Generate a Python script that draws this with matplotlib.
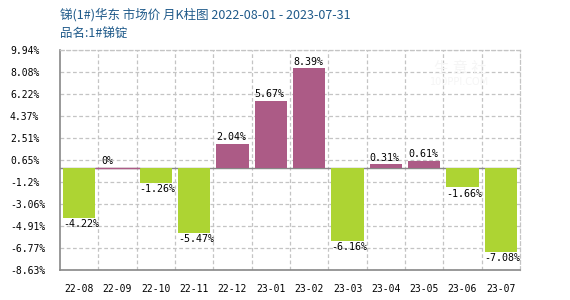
import matplotlib
matplotlib.use("Agg")
import matplotlib.pyplot as plt
import numpy as np

categories = ["22-08", "22-09", "22-10", "22-11", "22-12", "23-01",
              "23-02", "23-03", "23-04", "23-05", "23-06", "23-07"]
values = [-4.22, 0, -1.26, -5.47, 2.04, 5.67, 8.39, -6.16, 0.31, 0.61, -1.66, -7.08]
value_labels = ["-4.22%", "0%", "-1.26%", "-5.47%", "2.04%", "5.67%",
                "8.39%", "-6.16%", "0.31%", "0.61%", "-1.66%", "-7.08%"]
yticks = [9.94, 8.08, 6.22, 4.37, 2.51, 0.65, -1.2, -3.06, -4.91, -6.77, -8.63]
ytick_labels = ["9.94%", "8.08%", "6.22%", "4.37%", "2.51%", "0.65%",
                "-1.2%", "-3.06%", "-4.91%", "-6.77%", "-8.63%"]
title1 = "锑(1#)华东 市场价 月K柱图 2022-08-01 - 2023-07-31"
title2 = "品名:1#锑锭"

UP = "#ac5b86"
DOWN = "#add433"
MONO = "DejaVu Sans Mono"

fig = plt.figure(figsize=(5.7, 3.0), dpi=100)
ax = fig.add_axes([60/570, 30/300, 460/570, 220/300])

x = np.arange(len(categories))
colors = [UP if v >= 0 else DOWN for v in values]
bw = 0.84
ax.bar(x, values, width=bw, color=colors, zorder=3)
# zero-height bar drawn as a line
for xi, v in zip(x, values):
    if v == 0:
        ax.plot([xi - 0.55, xi + 0.55], [0, 0], color=UP, lw=1.0, zorder=4)

ax.axhline(0, color="#888888", lw=1, zorder=2)

for xi, v, lab in zip(x, values, value_labels):
    if v >= 0:
        ax.text(xi - bw/2, v + 0.12, lab, ha="left", va="bottom",
                fontsize=7.2, family=MONO, color="black", zorder=5)
    else:
        ax.text(xi - bw/2, v - 0.12, lab, ha="left", va="top",
                fontsize=7.2, family=MONO, color="black", zorder=5)

ax.set_xlim(-0.5, len(categories) - 0.5)
ax.set_ylim(yticks[-1], yticks[0])
ax.set_yticks(yticks)
ax.set_yticklabels(ytick_labels, family=MONO, fontsize=7, ha="left")
ax.set_xticks(x)
ax.set_xticklabels(categories, family=MONO, fontsize=7)
ax.tick_params(axis="y", length=0, pad=36)
ax.tick_params(axis="x", length=0, pad=10)

# grid
for yt in yticks:
    ax.axhline(yt, color="#c4c4c4", lw=0.9, ls=(0, (3, 2)), zorder=1)
for b in np.arange(0.5, len(categories) - 0.5, 1):
    ax.axvline(b, color="#c4c4c4", lw=0.9, ls=(0, (3, 2)), zorder=1)

for s in ["top", "right"]:
    ax.spines[s].set_color("#c4c4c4")
    ax.spines[s].set_linestyle((0, (3, 2)))
    ax.spines[s].set_linewidth(0.9)
for s in ["left", "bottom"]:
    ax.spines[s].set_color("#888888")
    ax.spines[s].set_linewidth(1.2)

# watermark
fig.text(460/570, 1 - 68/300, "生 意 社", fontsize=11, color="#f5f5f5",
         family="Noto Sans CJK SC", ha="center", va="center", zorder=0)
fig.text(460/570, 1 - 82/300, "100PPI.COM", fontsize=7, color="#f5f5f5",
         family="DejaVu Sans", ha="center", va="center", zorder=0)

fig.text(60/570, 1 - 15/300, title1, fontsize=9, color="#1f5a8a",
         family=["Noto Sans CJK SC", "DejaVu Sans"], ha="left", va="center")
fig.text(60/570, 1 - 34/300, title2, fontsize=9, color="#1f5a8a",
         family=["Noto Sans CJK SC", "DejaVu Sans"], ha="left", va="center")

fig.savefig("out.png", dpi=100)
